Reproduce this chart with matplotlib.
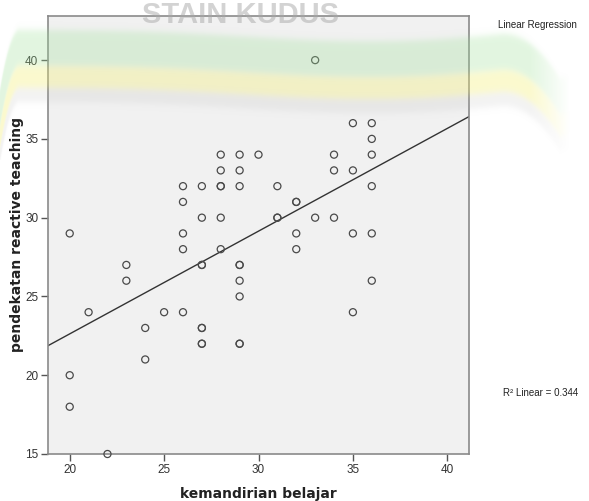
import numpy as np
import matplotlib
matplotlib.use("Agg")
import matplotlib.pyplot as plt

# Data: (kemandirian belajar, pendekatan reactive teaching)
x_vals = [33, 35, 36, 36, 28, 29, 30, 34, 36,
          28, 29, 34, 35,
          26, 27, 28, 28, 29, 31, 36,
          26, 32, 32,
          27, 28, 31, 31, 33, 34,
          20, 26, 32, 35, 36,
          26, 28, 32,
          23, 27, 27, 29, 29,
          23, 29, 36,
          29,
          21, 25, 26, 35,
          24, 27, 27,
          27, 27, 29, 29,
          24, 20, 20, 22]
y_vals = [40, 36, 36, 35, 34, 34, 34, 34, 34,
          33, 33, 33, 33,
          32, 32, 32, 32, 32, 32, 32,
          31, 31, 31,
          30, 30, 30, 30, 30, 30,
          29, 29, 29, 29, 29,
          28, 28, 28,
          27, 27, 27, 27, 27,
          26, 26, 26,
          25,
          24, 24, 24, 24,
          23, 23, 23,
          22, 22, 22, 22,
          21, 20, 18, 15]
x_ticks = [20, 25, 30, 35, 40]
y_ticks = [15, 20, 25, 30, 35, 40]
r2_text = "R\u00b2 Linear = 0.344"

x = np.array(x_vals, float)
y = np.array(y_vals, float)

W, H = 589, 501
fig = plt.figure(figsize=(W/100, H/100), dpi=100)
fig.patch.set_facecolor("white")
ax = fig.add_axes([48/W, 1-454/H, (469-48)/W, (454-16)/H])
ax.set_facecolor("#f1f1f1")

xlim = (18.85, 41.15)
ylim = (15.0, 42.8)
ax.set_xlim(*xlim)
ax.set_ylim(*ylim)

ax.scatter(x, y, s=26, facecolors="none", edgecolors="#4a4a4a", linewidths=0.9, zorder=3, clip_on=False)

slope, intercept = np.polyfit(x, y, 1)
xx = np.array(xlim)
ax.plot(xx, slope*xx + intercept, color="#333333", lw=1.0, zorder=2)

for s in ax.spines.values():
    s.set_color("#8a8a8a")
    s.set_linewidth(1.2)

ax.set_xticks(x_ticks)
ax.set_yticks(y_ticks)
ax.tick_params(axis="both", direction="out", length=5, width=1, color="#555555",
               labelsize=8.5, labelcolor="#333333", pad=2)
for lab in ax.get_xticklabels() + ax.get_yticklabels():
    lab.set_family(["Liberation Sans", "DejaVu Sans"])

ax.set_xlabel("kemandirian belajar", fontsize=10, fontweight="bold", color="#222222", labelpad=8)
ax.set_ylabel("pendekatan reactive teaching", fontsize=10, fontweight="bold", color="#222222", labelpad=0.5)

fig.text(498/W, 1-25/H, "Linear Regression", fontsize=7, color="#222222", va="center", ha="left",
         family=["Liberation Sans", "DejaVu Sans"])
fig.text(503/W, 1-393/H, r2_text, fontsize=7, color="#222222", va="center", ha="left",
         family=["Liberation Sans", "DejaVu Sans"])

# faint watermark overlay (decorative background logo), drawn as a soft image
wm = fig.add_axes([0, 0, 1, 1], zorder=5)
wm.axis("off")
gx, gy = np.meshgrid(np.arange(W) + 0.5, np.arange(160) + 0.5)
yc = 78 + 9*np.sin((gx - 40)/500*np.pi) - 4*np.sin((gx - 40)/250*np.pi)
yc = yc + 60*np.clip((20 - gx)/20, 0, 1)**2 + 50*np.clip((gx - 500)/60, 0, 1)**2
d = gy - yc

def band(lo, hi, soft=6.0):
    a = 1/(1 + np.exp(-(d - lo)/soft*3))
    b = 1/(1 + np.exp((d - hi)/soft*3))
    return a*b

xfade = np.clip((570 - gx)/40, 0, 1)
img = np.zeros((160, W, 4))
layers = [((0.62, 0.88, 0.60), band(-48, -12), 0.30),
          ((0.96, 0.94, 0.45), band(-12, 10), 0.35),
          ((0.70, 0.70, 0.70), band(10, 24), 0.16)]
for col, m, a in layers:
    alpha = m*a*xfade
    for c in range(3):
        img[..., c] = img[..., c]*(1 - alpha) + col[c]*alpha
    img[..., 3] = img[..., 3] + alpha*(1 - img[..., 3])
img[..., :3] = np.clip(img[..., :3]/np.maximum(img[..., 3:4], 1e-6), 0, 1)
wm.imshow(img, extent=(0, W, 160, 0), interpolation="bilinear", aspect="auto", zorder=1)
wm.set_xlim(0, W)
wm.set_ylim(H, 0)
wm.text(240, 1, "STAIN KUDUS", fontsize=21, fontweight="bold", color="#a8a8a8", alpha=0.5,
        ha="center", va="top", family=["Liberation Sans", "DejaVu Sans"], zorder=2)

fig.savefig("out.png", dpi=100)
